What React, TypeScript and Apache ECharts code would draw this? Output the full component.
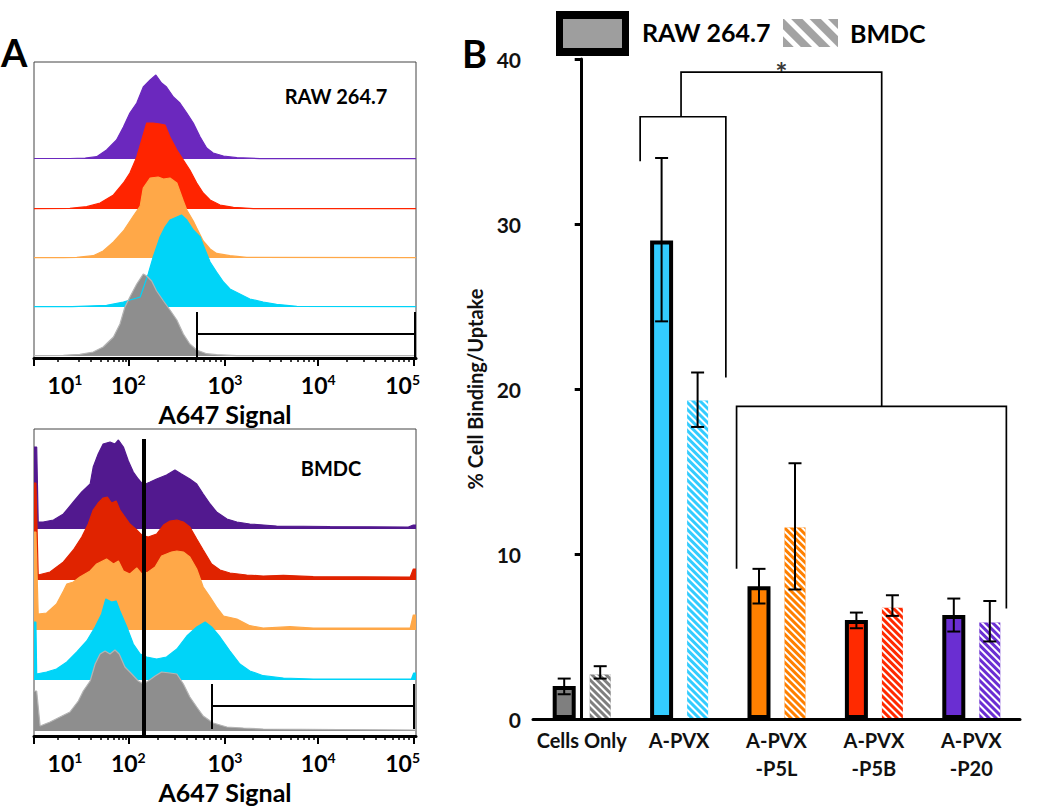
import React, { useEffect, useRef } from 'react';
import * as echarts from 'echarts';

const FONT = 'Lato, "Open Sans", "DejaVu Sans", sans-serif';

// ---------- Panel A: axis (display channels 0-1000, logicle-like) ----------
const decadeExponents = [1, 2, 3, 4, 5];
const decadeLabelChannels = [81, 247, 500, 744, 965];
const majorTickChannels = [0, 247, 500, 744, 993];
const minorTickChannels = [
  62, 118, 149, 175, 194, 210, 222, 232, 240,
  323, 368, 399, 424, 444, 461, 475, 488,
  573, 616, 647, 671, 690, 706, 720, 733,
  819, 863, 894, 918, 938, 954, 969, 982,
];

// RAW 264.7 histograms [channel, count]
const rawPurple = [[0,0.5],[94,0.5],[134,1],[164,2.3],[190,9],[216,19],[234,32],[251,46],[269,56],[286,72],[304,79],[319,84],[334,76],[347,72],[365,62],[382,56],[400,46],[417,36],[435,22],[452,11],[469,6],[496,3],[531,1.3],[592,0.4],[1000,0.3]];
const rawRed = [[0,0.3],[94,0.7],[138,2.3],[173,6],[208,14],[234,26],[251,36],[269,52],[282,69],[295,86],[312,86],[330,85],[343,84],[356,72],[374,59],[391,49],[408,39],[426,26],[443,16],[461,9],[487,4],[522,1.7],[574,0.4],[1000,0.3]];
const rawOrange = [[0,0.3],[77,0.3],[112,0.7],[155,2.3],[181,7],[208,16],[234,27],[260,42],[278,52],[286,70],[304,80],[325,81],[339,79],[356,80],[374,75],[391,57],[400,48],[417,37],[426,30],[443,17],[461,9],[478,4.6],[513,2.3],[557,0.6],[1000,0.3]];
const rawCyan = [[0,0.3],[100,0.3],[190,1.7],[234,5],[278,10],[299,33],[312,50],[330,70],[343,80],[356,87],[374,90],[386,92],[400,87],[417,77],[435,70],[443,62],[461,45],[478,35],[496,25],[513,18],[539,13],[565,8],[600,5],[635,2.7],[688,0.7],[1000,0.3]];
const rawGray = [[0,0.3],[77,0.7],[120,1.7],[155,4],[181,9],[208,19],[225,32],[238,49],[251,59],[269,72],[286,82],[295,80],[308,75],[321,65],[339,55],[356,46],[374,36],[391,22],[408,12],[426,6],[452,2.3],[478,1.3],[531,0.3],[1000,0.3]];

// BMDC histograms [channel, count]
const bmdcPurple = [[0,82],[7,82],[11,7],[24,7],[51,9],[77,15],[103,27],[125,37],[147,45],[155,62],[168,75],[181,85],[199,87],[212,85],[221,89],[234,82],[247,68],[260,57],[273,50],[286,44],[304,47],[321,50],[347,54],[369,59],[386,55],[408,50],[426,45],[443,35],[461,25],[478,17],[505,10],[531,7],[565,5],[635,3],[775,2.5],[980,2],[993,4],[1000,4]];
const bmdcRed = [[0,97],[5,97],[11,5],[42,8],[77,18],[103,30],[125,43],[142,56],[155,70],[168,77],[181,82],[192,83],[203,77],[215,79],[225,70],[238,63],[251,56],[269,50],[282,45],[299,43],[321,46],[339,55],[356,59],[374,60],[391,58],[408,53],[426,41],[443,30],[465,16],[487,10],[513,7],[557,5],[600,4],[653,4.7],[731,3.3],[985,3],[993,11],[1000,11]];
const bmdcOrange = [[0,98],[5,98],[11,16],[33,17],[59,26],[77,39],[86,46],[103,48],[120,53],[147,59],[164,66],[190,71],[208,66],[221,69],[234,59],[251,56],[269,62],[282,56],[299,58],[317,63],[334,74],[347,76],[360,78],[374,79],[391,78],[408,73],[426,61],[443,43],[461,33],[478,23],[496,14],[531,11],[565,4.3],[600,2],[670,3.3],[731,2],[985,2],[993,15],[1000,15]];
const bmdcCyan = [[0,58],[5,58],[7,6],[33,8],[59,11],[86,18],[112,28],[138,39],[160,53],[177,66],[188,81],[203,78],[215,79],[225,69],[243,53],[260,36],[278,26],[295,23],[321,21],[347,23],[374,31],[400,44],[426,53],[448,58],[465,53],[487,43],[513,29],[539,16],[565,9],[600,4.3],[653,2],[731,1],[988,1],[994,7],[1000,7]];
const bmdcGray = [[0,40],[7,40],[16,5],[42,9],[68,14],[94,19],[116,30],[129,40],[147,50],[160,67],[173,77],[186,80],[199,77],[212,81],[223,77],[238,64],[256,57],[273,50],[286,47],[299,50],[317,55],[334,59],[356,58],[374,57],[391,47],[408,34],[426,24],[443,15],[469,8],[505,4],[548,3],[600,2],[1000,1]];

// Gates (channels)
const rawGateChannels = [427, 997];
const bmdcGateChannels = [466, 995];
const bmdcDividerChannel = 288;

// ---------- Panel B ----------
const categories = ['Cells Only', 'A-PVX', 'A-PVX\n-P5L', 'A-PVX\n-P5B', 'A-PVX\n-P20'];
const rawMean = [2.0, 29.0, 8.05, 6.0, 6.3];
const rawLow = [1.5, 24.1, 7.0, 5.5, 5.3];
const rawHigh = [2.45, 34.0, 9.1, 6.45, 7.3];
const bmdcMean = [2.7, 19.3, 11.6, 6.75, 5.85];
const bmdcLow = [2.45, 17.7, 7.85, 6.25, 4.7];
const bmdcHigh = [3.2, 21.0, 15.5, 7.5, 7.15];
// significance brackets [categoryPosition, value]
const bracketAPVX = [[0.6, 33.8], [0.6, 36.5], [1.48, 36.5], [1.48, 20.7]];
const bracketConj = [[1.59, 9.1], [1.59, 18.95], [4.36, 18.95], [4.36, 6.7]];
const bracketTop = [[1.02, 36.5], [1.02, 39.2], [3.08, 39.2], [3.08, 18.95]];
const starPoint = [2.05, 39.2];

const barColors = ['#7f7f7f', '#33ccff', '#ff8000', '#ff2a00', '#6a2ed2'];
const topFills = ['#6b28be', '#ff2400', '#ffa848', '#00d4f8', '#8e8e8e'];
const bottomFills = ['#52198f', '#e02300', '#ffa848', '#00d4f8', '#8e8e8e'];

function buildOption() {
  const grid: any[] = [];
  const xAxis: any[] = [];
  const yAxis: any[] = [];
  const series: any[] = [];

  const addCart = (g: any, xa: any, ya: any) => {
    grid.push(g);
    const gi = grid.length - 1;
    xAxis.push({ gridIndex: gi, ...xa });
    yAxis.push({ gridIndex: gi, ...ya });
    return xAxis.length - 1;
  };

  const hiddenX = { type: 'value', min: 0, max: 1000, show: false };

  const buildPanel = (
    hists: number[][][],
    fills: string[],
    baselines: number[],
    frameTop: number,
    frameBottom: number,
    gateCh: number[],
    gateY: number[],
    divider: number | null,
  ) => {
    const fh = frameBottom - frameTop;
    const fi = addCart(
      { left: 34, top: frameTop, width: 382, height: fh, show: true, borderColor: '#444', borderWidth: 1 },
      {
        type: 'value', min: 0, max: 1000, z: 6,
        splitLine: { show: false },
        axisLine: { show: true, onZero: false, lineStyle: { color: '#000', width: 3 } },
        axisTick: { show: true, customValues: majorTickChannels, length: 8, lineStyle: { color: '#000', width: 2 } },
        axisLabel: {
          show: true, customValues: decadeLabelChannels, margin: 14,
          formatter: (v: number) => {
            const idx = decadeLabelChannels.indexOf(v);
            return `{b|10}{s|${decadeExponents[idx]}}`;
          },
          rich: {
            b: { fontSize: 23, fontWeight: 'bold', fontFamily: FONT, color: '#000', lineHeight: 26 },
            s: { fontSize: 14, fontWeight: 'bold', fontFamily: FONT, color: '#000', verticalAlign: 'top', lineHeight: 15 },
          },
        },
        name: 'A647 Signal', nameLocation: 'middle', nameGap: 43,
        nameTextStyle: { fontSize: 25, fontWeight: 'bold', fontFamily: FONT, color: '#000' },
      },
      { type: 'value', min: 0, max: fh, show: false },
    );
    addCart(
      { left: 34, top: frameTop, width: 382, height: fh },
      {
        type: 'value', min: 0, max: 1000, z: 6,
        splitLine: { show: false },
        axisLine: { show: false },
        axisTick: { show: true, customValues: minorTickChannels, length: 4, lineStyle: { color: '#000', width: 1.5 } },
        axisLabel: { show: false },
      },
      { type: 'value', min: 0, max: fh, show: false },
    );
    hists.forEach((h, i) => {
      const ai = addCart(
        { left: 34, top: baselines[i] - 110, width: 382, height: 111 },
        hiddenX,
        { type: 'value', min: -1, max: 110, show: false },
      );
      series.push({
        type: 'line', xAxisIndex: ai, yAxisIndex: ai, data: h,
        showSymbol: false, symbol: 'none', clip: false,
        lineStyle: { color: i === 4 ? '#b4b4b4' : fills[i], width: 1.2 },
        areaStyle: { color: fills[i], opacity: 1 },
        z: 2,
      });
    });
    const gateLines: any[] = [
      { coords: [[gateCh[0], gateY[0]], [gateCh[0], gateY[2]]] },
      { coords: [[gateCh[0], gateY[1]], [gateCh[1], gateY[1]]] },
      { coords: [[gateCh[1], gateY[0]], [gateCh[1], gateY[2]]] },
    ];
    series.push({
      type: 'lines', coordinateSystem: 'cartesian2d', xAxisIndex: fi, yAxisIndex: fi,
      data: gateLines, lineStyle: { color: '#000', width: 2, opacity: 1 }, z: 10, silent: true,
    });
    if (divider !== null) {
      series.push({
        type: 'lines', coordinateSystem: 'cartesian2d', xAxisIndex: fi, yAxisIndex: fi,
        data: [{ coords: [[divider, 0], [divider, fh - 10]] }],
        lineStyle: { color: '#000', width: 4, opacity: 1 }, z: 10, silent: true,
      });
    }
  };

  buildPanel(
    [rawPurple, rawRed, rawOrange, rawCyan, rawGray], topFills,
    [159, 209, 258, 307, 356], 62, 358, rawGateChannels, [1, 24, 46], null,
  );
  buildPanel(
    [bmdcPurple, bmdcRed, bmdcOrange, bmdcCyan, bmdcGray], bottomFills,
    [529, 580, 630, 680, 731], 429, 736, bmdcGateChannels, [7, 30, 52], bmdcDividerChannel,
  );

  // ---------- Panel B ----------
  grid.push({ left: 533, right: 30, top: 59, bottom: 90 });
  const gB = grid.length - 1;
  xAxis.push({
    gridIndex: gB, type: 'category', data: categories, boundaryGap: true, z: 6,
    axisLine: { lineStyle: { color: '#000', width: 3 } },
    axisTick: { alignWithLabel: true, length: 6, lineStyle: { color: '#000', width: 2 } },
    axisLabel: { fontSize: 20, fontWeight: 'bold', fontFamily: FONT, color: '#111', lineHeight: 28, margin: 7, interval: 0 },
  });
  const xCat = xAxis.length - 1;
  xAxis.push({ gridIndex: gB, type: 'value', min: -0.5, max: 4.5, show: false });
  const xVal = xAxis.length - 1;
  yAxis.push({
    gridIndex: gB, type: 'value', min: 0, max: 40, interval: 10, z: 6,
    splitLine: { show: false },
    axisLine: { show: true, lineStyle: { color: '#000', width: 3 } },
    axisTick: { show: true, length: 7, lineStyle: { color: '#000', width: 3 } },
    axisLabel: { fontSize: 21, fontWeight: 'bold', fontFamily: FONT, color: '#111', margin: 12 },
    name: '% Cell Binding/Uptake', nameLocation: 'middle', nameGap: 48,
    nameTextStyle: { fontSize: 20, fontWeight: 'bold', fontFamily: FONT, color: '#111' },
  });
  const yB = yAxis.length - 1;

  const rawW = 23;
  const bmdcW = 21;
  const gapFrac = 0.609;
  const total = rawW * (1 + gapFrac) + bmdcW;
  const rawOff = -total / 2 + rawW / 2;
  const bmdcOff = -total / 2 + rawW * (1 + gapFrac) + bmdcW / 2;
  const stripes = { symbol: 'rect', symbolSize: 1, color: '#ffffff', dashArrayX: [1, 0], dashArrayY: [2, 3], rotation: Math.PI / 4 };

  series.push({
    type: 'bar', name: 'RAW 264.7', xAxisIndex: xCat, yAxisIndex: yB, barWidth: rawW, barGap: `${gapFrac * 100}%`,
    data: rawMean.map((v, i) => ({ value: v, itemStyle: { color: barColors[i] } })),
    itemStyle: { borderColor: '#000', borderWidth: 4 }, z: 3,
  });
  series.push({
    type: 'bar', name: 'BMDC', xAxisIndex: xCat, yAxisIndex: yB, barWidth: bmdcW, barGap: `${gapFrac * 100}%`,
    data: bmdcMean.map((v, i) => ({ value: v, itemStyle: { color: barColors[i], decal: stripes } })),
    itemStyle: { decal: stripes }, z: 3,
  });

  const errRender = (offset: number) => (params: any, api: any) => {
    const c = api.value(0);
    const x = api.coord([c, 0])[0] + offset;
    const yl = api.coord([c, api.value(1)])[1];
    const yh = api.coord([c, api.value(2)])[1];
    const hw = 6.5;
    const st = { stroke: '#000', lineWidth: 2 };
    return {
      type: 'group',
      children: [
        { type: 'line', shape: { x1: x, y1: yh, x2: x, y2: yl }, style: st },
        { type: 'line', shape: { x1: x - hw, y1: yh, x2: x + hw, y2: yh }, style: st },
        { type: 'line', shape: { x1: x - hw, y1: yl, x2: x + hw, y2: yl }, style: st },
      ],
    };
  };
  series.push({
    type: 'custom', xAxisIndex: xCat, yAxisIndex: yB, z: 8, silent: true,
    data: rawLow.map((l, i) => [i, l, rawHigh[i]]), renderItem: errRender(rawOff),
  });
  series.push({
    type: 'custom', xAxisIndex: xCat, yAxisIndex: yB, z: 8, silent: true,
    data: bmdcLow.map((l, i) => [i, l, bmdcHigh[i]]), renderItem: errRender(bmdcOff),
  });
  series.push({
    type: 'lines', coordinateSystem: 'cartesian2d', xAxisIndex: xVal, yAxisIndex: yB, polyline: true,
    data: [{ coords: bracketAPVX }, { coords: bracketConj }, { coords: bracketTop }],
    lineStyle: { color: '#000', width: 1.7, opacity: 1 }, z: 9, silent: true,
  });
  series.push({
    type: 'scatter', xAxisIndex: xVal, yAxisIndex: yB, data: [starPoint], symbolSize: 0, z: 9, silent: true,
    label: { show: true, position: 'inside', formatter: '*', fontSize: 29, fontWeight: 'bold', fontFamily: FONT, color: '#000', offset: [0, -1] },
  });

  // legend swatch (hatched) as a tiny bar
  grid.push({ left: 783, top: 19, width: 55, height: 28 });
  const gL = grid.length - 1;
  xAxis.push({ gridIndex: gL, type: 'category', data: ['BMDC'], show: false });
  yAxis.push({ gridIndex: gL, type: 'value', min: 0, max: 1, show: false });
  series.push({
    type: 'bar', xAxisIndex: xAxis.length - 1, yAxisIndex: yAxis.length - 1, barWidth: '100%', data: [1],
    itemStyle: { color: '#a3a3a3', decal: { symbol: 'rect', symbolSize: 1, color: '#ffffff', dashArrayX: [1, 0], dashArrayY: [5, 8], rotation: Math.PI / 4 } },
    silent: true,
  });

  const txt = (text: string, x: number, y: number, size: number, align = 'left') => ({
    type: 'text', x, y, silent: true,
    style: { text, fontSize: size, fontWeight: 'bold', fontFamily: FONT, fill: '#000', align, verticalAlign: 'middle' },
  });

  const graphic: any[] = [
    txt('A', 1, 52, 38),
    txt('B', 462, 53, 38),
    txt('RAW 264.7', 336, 96, 20, 'center'),
    txt('BMDC', 331, 468, 20, 'center'),
    { type: 'rect', shape: { x: 556, y: 11, width: 73, height: 45 }, style: { fill: '#000' }, silent: true },
    { type: 'rect', shape: { x: 563, y: 19, width: 59, height: 29 }, style: { fill: '#9e9e9e' }, silent: true },
    txt('RAW 264.7', 642, 32, 25),
    txt('BMDC', 850, 33, 25),
  ];

  return { animation: false, backgroundColor: '#fff', grid, xAxis, yAxis, series, graphic };
}

export default function App() {
  const ref = useRef<HTMLDivElement>(null);
  useEffect(() => {
    if (!ref.current) return;
    const chart = echarts.init(ref.current, undefined, { renderer: 'svg' });
    chart.setOption(buildOption() as any);
    return () => chart.dispose();
  }, []);
  return <div ref={ref} style={{ position: 'absolute', left: 0, top: 0, width: 1050, height: 809 }} />;
}
